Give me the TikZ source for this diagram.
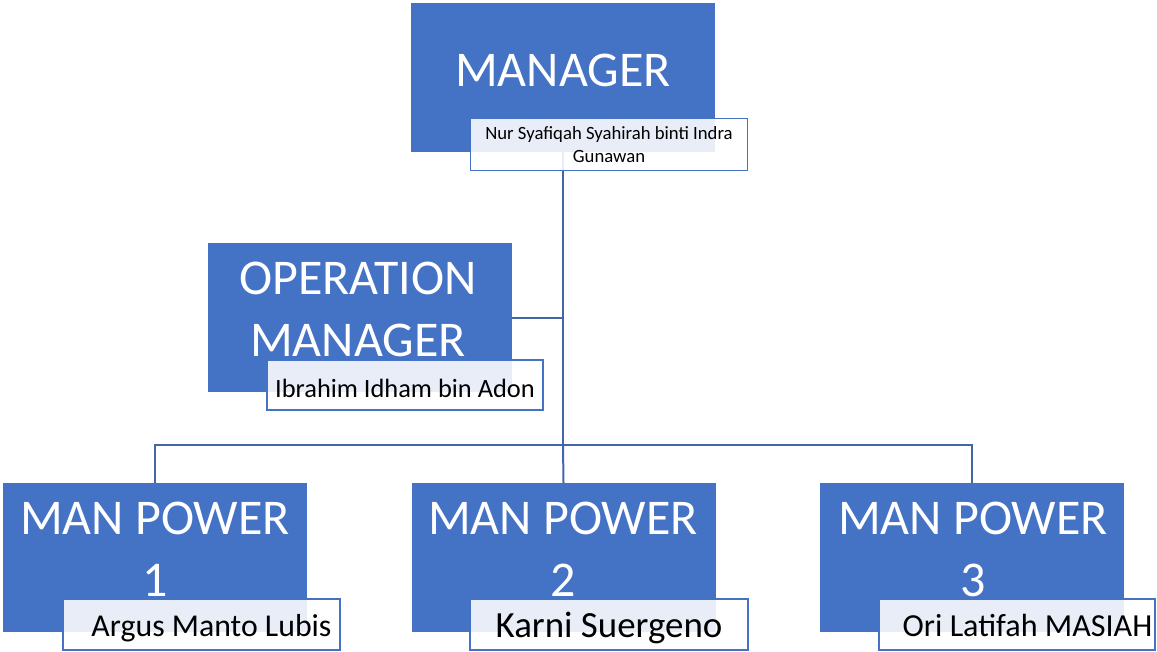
\documentclass[tikz,border=0pt]{standalone}
\usepackage{fontspec}
\setmainfont{Carlito}
\definecolor{boxblue}{HTML}{4472C4}
\definecolor{lineblue}{HTML}{4266A8}
\tikzset{
  rolebox/.style={fill=boxblue, inner sep=0pt, minimum width=304pt, minimum height=149pt},
  namebox/.style={draw=boxblue, line width=1.8pt, fill=white, fill opacity=0.88,
    inner sep=0pt, minimum width=277pt, minimum height=52pt},
  roletext/.style={text=white, anchor=base, align=center, inner sep=0pt,
    font=\fontsize{50}{62}\selectfont},
  nametext/.style={text=black, anchor=base, inner sep=0pt},
  link/.style={draw=lineblue, line width=2pt}
}
\begin{document}
\begin{tikzpicture}[x=1pt, y=-1pt]
\useasboundingbox (0,0) rectangle (1157,651);
% caselle
\node[rolebox] (mgr) at (563,77.5) {};
\node[rolebox] (op) at (359.5,317.5) {};
\node[rolebox] (mp1) at (155,557.5) {};
\node[rolebox] (mp2) at (563.5,557.5) {};
\node[rolebox] (mp3) at (971.5,557.5) {};
% collegamenti
\coordinate (bus) at (563,445);
\draw[link] (mgr.south) -- (bus);
\draw[link] (op.east) -- (op.east -| mgr.south);
\draw[link] (mp1.north) |- (bus) -| (mp3.north);
\draw[link] (bus) -- (mp2.north);
% titoli (base = ultima riga)
\node[roletext] (mgrT) at (563,86) {MANAGER};
\node[roletext] (opT) at (358,356) {OPERATION\\MANAGER};
\node[roletext] (mp1T) at (155,596) {MAN POWER\\1};
\node[roletext] (mp2T) at (563,596) {MAN POWER\\2};
\node[roletext] (mp3T) at (973,596) {MAN POWER\\3};
% nomi
\node[namebox] (mgrN) at (609,144.5) {};
\node[nametext, align=center, font=\fontsize{18.7}{23}\selectfont] (mgrNT) at (609,162)
  {Nur Syafiqah Syahirah binti Indra\\Gunawan};
\node[namebox, minimum width=276pt, minimum height=50pt] (opN) at (405,385) {};
\node[nametext, font=\fontsize{26.4}{32}\selectfont] (opNT) at (405,397) {Ibrahim Idham bin Adon};
\node[namebox, minimum height=51pt] (mp1N) at (201.5,624.5) {};
\node[nametext, font=\fontsize{31.8}{38}\selectfont] (mp1NT) at (211.5,636) {Argus Manto Lubis};
\node[namebox, minimum width=278pt, minimum height=51pt] (mp2N) at (609,624.5) {};
\node[nametext, font=\fontsize{36.9}{44}\selectfont] (mp2NT) at (609,637) {Karni Suergeno};
\node[namebox, minimum width=276pt, minimum height=51pt] (mp3N) at (1017,624.5) {};
\node[nametext, font=\fontsize{32.1}{38}\selectfont] (mp3NT) at (1027.5,636) {Ori Latifah MASIAH};
\end{tikzpicture}
\end{document}
